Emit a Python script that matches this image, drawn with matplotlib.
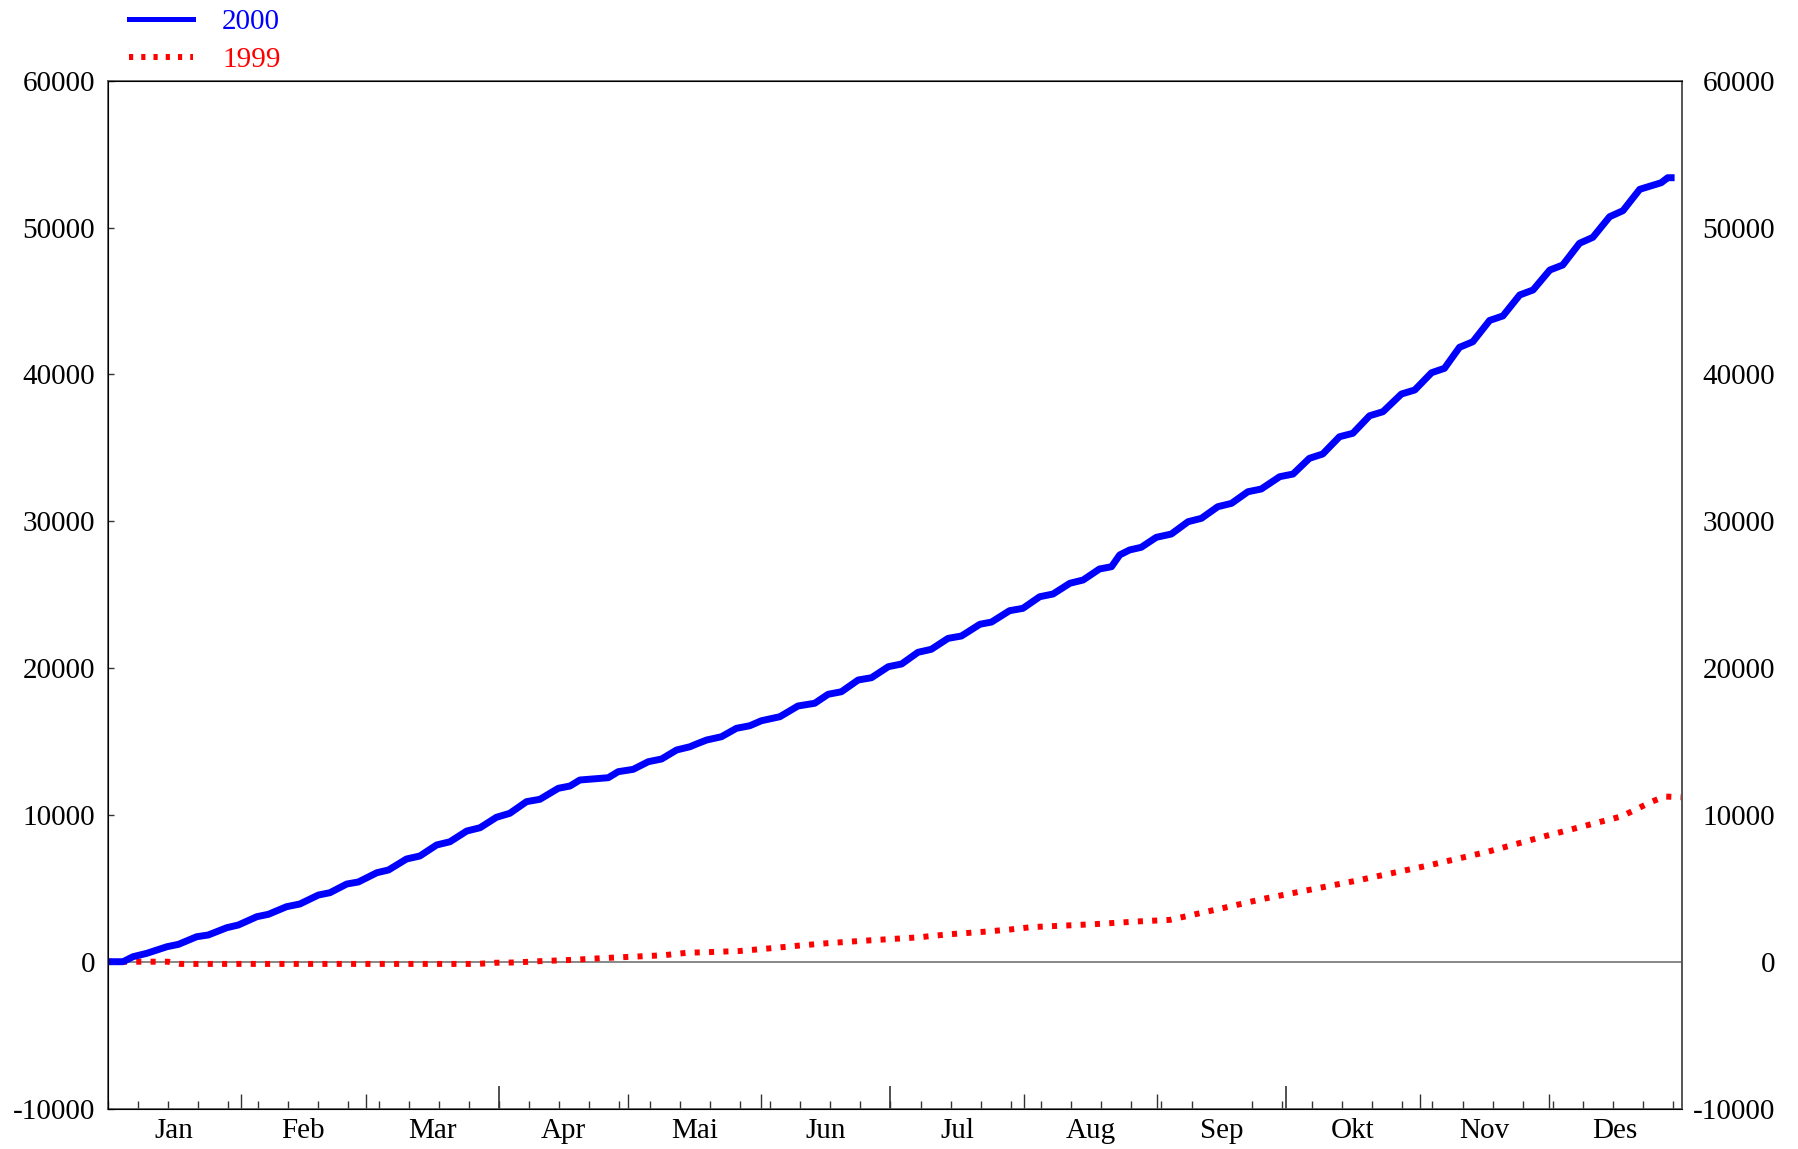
from __future__ import annotations

from datetime import date

import matplotlib

matplotlib.use("Agg")
import matplotlib.pyplot as plt
from matplotlib.lines import Line2D
from matplotlib.ticker import MultipleLocator

plt.rcParams["font.family"] = ["Liberation Serif", "DejaVu Serif"]

YEAR = 2000
MONTHS = ["Jan", "Feb", "Mar", "Apr", "Mai", "Jun", "Jul", "Aug", "Sep", "Okt", "Nov", "Des"]
Y_TICKS = [-10000, 0, 10000, 20000, 30000, 40000, 50000, 60000]

# 2000: cumulative value, read at the corners of the weekly steps (day of year)
DAYS_2000 = [
    0, 3.6, 5.9, 9.1, 13.8, 16.5, 20.7, 23.4, 27.7, 30.4, 34.7, 37.4, 41.6, 44.7,
    49.0, 51.7, 55.6, 58.3, 62.6, 65.3, 69.5, 72.6, 76.5, 79.6, 83.5, 86.6, 90.4,
    93.5, 97.4, 100.5, 104.8, 107.5, 109.8, 116.4, 118.7, 122.2, 125.7, 128.8,
    132.3, 135.4, 136.9, 139.3, 142.7, 146.2, 149.3, 152.0, 156.3, 160.5, 164.4,
    167.5, 170.6, 174.5, 177.6, 181.5, 184.6, 188.4, 191.5, 195.4, 198.5, 202.8,
    205.5, 209.7, 212.8, 216.7, 219.8, 223.7, 226.8, 230.6, 233.4, 235.3, 237.6,
    240.3, 243.8, 247.3, 251.2, 254.3, 258.1, 261.3, 265.1, 268.2, 272.5, 275.6,
    279.4, 282.5, 286.4, 289.5, 293.4, 296.5, 300.8, 303.9, 307.8, 310.8, 314.3,
    317.4, 321.3, 324.4, 328.3, 331.4, 335.3, 338.3, 342.2, 345.3, 349.2, 352.3,
    356.2, 361.2, 362.7, 363.5,
]
VALUES_2000 = [
    0, 0, 340, 570, 1020, 1185, 1700, 1820, 2315, 2500, 3065, 3230, 3745, 3930,
    4540, 4700, 5290, 5430, 6060, 6245, 6995, 7200, 7950, 8170, 8900, 9125, 9835,
    10105, 10900, 11060, 11810, 11965, 12375, 12530, 12940, 13100, 13620, 13805,
    14420, 14640, 14825, 15100, 15320, 15895, 16070, 16410, 16685, 17415, 17600,
    18210, 18385, 19185, 19340, 20090, 20275, 21070, 21275, 22020, 22180, 22980,
    23130, 23905, 24065, 24855, 25040, 25770, 25995, 26745, 26900, 27700, 28040,
    28220, 28900, 29125, 29965, 30195, 30985, 31215, 32005, 32190, 33030, 33210,
    34280, 34575, 35750, 35985, 37180, 37455, 38660, 38935, 40110, 40410, 41840,
    42220, 43670, 43980, 45405, 45745, 47105, 47445, 48925, 49330, 50735, 51145,
    52600, 53050, 53390, 53390,
]

# 1999: cumulative value (day of year)
DAYS_1999 = [
    0, 14, 17, 86, 90, 95, 101.3, 107.9, 114.9, 122, 129.1, 134.7, 139.9, 146.9,
    153.5, 160.6, 167.5, 174.7, 181.4, 188.2, 195.7, 202.8, 209.6, 214.8, 229,
    240, 247, 260, 269, 290, 307, 321, 333.5, 352, 359, 362, 366,
]
VALUES_1999 = [
    0, 0, -150, -150, -73, -49, 49, 122, 243, 340, 437, 608, 656, 729, 899, 1094,
    1264, 1409, 1531, 1652, 1871, 2017, 2187, 2357, 2550, 2750, 2850, 3700, 4300,
    5500, 6550, 7500, 8500, 9900, 10900, 11250, 11200,
]

BLUE = "#0000ff"
RED = "#ff0000"
AXIS_GREY = "#555555"
TICK_GREY = "#333333"


def day_of_year(month: int) -> int:
    return (date(YEAR, month, 1) - date(YEAR, 1, 1)).days


def main() -> None:
    year_len = (date(YEAR + 1, 1, 1) - date(YEAR, 1, 1)).days
    month_starts = [day_of_year(m) for m in range(1, 13)] + [year_len]
    month_mids = [(a + b) / 2 for a, b in zip(month_starts[:-1], month_starts[1:])]
    quarter_starts = [d for i, d in enumerate(month_starts[1:-1], start=1) if i % 3 == 0]
    other_starts = [d for i, d in enumerate(month_starts[1:-1], start=1) if i % 3 != 0]

    fig = plt.figure(figsize=(17.99, 11.49), dpi=100)
    ax = fig.add_axes([0.0598, 0.0352, 0.8751, 0.8946])
    ax_h_px = 0.8946 * 1149

    ax.axhline(0, color="#7f7f7f", lw=1.3, zorder=1)
    ax.plot(DAYS_1999, VALUES_1999, color=RED, lw=4.3, linestyle=(0, (0.85, 1.55)),
            dash_capstyle="butt", zorder=2)
    ax.plot(DAYS_2000, VALUES_2000, color=BLUE, lw=5.0, zorder=3)

    ax.set_xlim(0, year_len)
    ax.set_ylim(-10000, 60000)

    for side in ax.spines.values():
        side.set_color(AXIS_GREY)
        side.set_linewidth(1.2)

    # month names centred in each month, weekly ticks, month/quarter marks
    ax.set_xticks(month_mids, labels=MONTHS)
    ax.xaxis.set_minor_locator(MultipleLocator(7))
    ax.tick_params(axis="x", which="major", length=0, pad=6.5, labelsize=21)
    ax.tick_params(axis="x", which="minor", direction="in", length=5.5,
                   width=1, color=TICK_GREY)
    trans = ax.get_xaxis_transform()
    ax.vlines(other_starts, 0, 15 / ax_h_px, transform=trans, color=TICK_GREY, lw=1)
    ax.vlines(quarter_starts, 0, 23 / ax_h_px, transform=trans, color=TICK_GREY, lw=1.2)

    ax.set_yticks(Y_TICKS, labels=[str(v) for v in Y_TICKS])
    ax.tick_params(axis="y", direction="in", length=4, width=1, color=TICK_GREY,
                   pad=9, labelsize=21)

    ax2 = ax.twinx()
    ax2.set_ylim(ax.get_ylim())
    ax2.set_yticks(Y_TICKS, labels=[str(v) for v in Y_TICKS], ha="right")
    ax2.tick_params(axis="y", length=0, pad=67, labelsize=21)
    ax2.spines["right"].set_color(AXIS_GREY)
    ax2.spines["right"].set_linewidth(1.2)

    # legend at the top left, text in the line colour
    fig.add_artist(Line2D([0.0717, 0.1073], [0.9835, 0.9835], color=BLUE,
                          lw=3.6, transform=fig.transFigure))
    fig.add_artist(Line2D([0.0717, 0.1073], [0.9505, 0.9505], color=RED,
                          lw=4.3, linestyle=(0, (0.7, 1.35)),
                          dash_capstyle="butt", transform=fig.transFigure))
    fig.text(0.1234, 0.9806, "2000", color=BLUE, fontsize=21, va="center")
    fig.text(0.1234, 0.9478, "1999", color=RED, fontsize=21, va="center")

    fig.savefig("out.png", dpi=100)
    plt.close(fig)


if __name__ == "__main__":
    main()
